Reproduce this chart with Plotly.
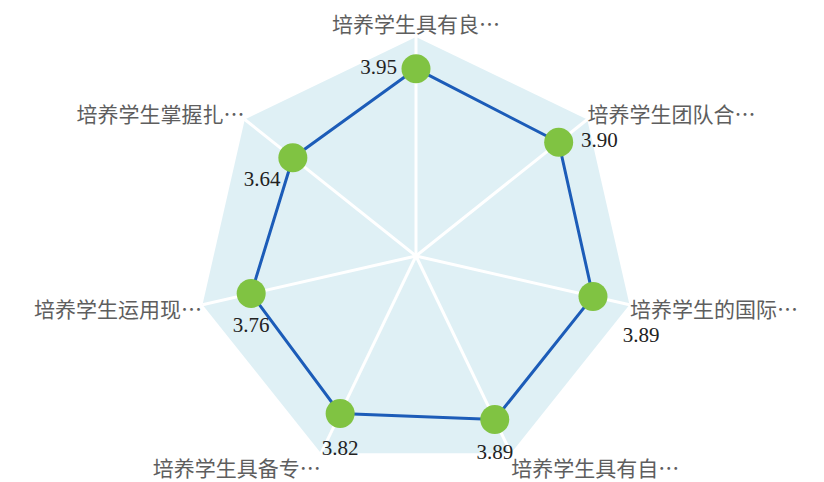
import plotly.graph_objects as go

categories = ["培养学生具有良…", "培养学生团队合…", "培养学生的国际…", "培养学生具有自…",
              "培养学生具备专…", "培养学生运用现…", "培养学生掌握扎…"]
values = [3.95, 3.90, 3.89, 3.89, 3.82, 3.76, 3.64]
value_labels = ["3.95", "3.90", "3.89", "3.89", "3.82", "3.76", "3.64"]
label_positions = ["middle left", "middle right", "bottom right", "bottom center",
                   "bottom center", "bottom center", "bottom left"]
# invisible marker sizes used only to set each value label's distance from its point
label_gaps = [29, 34, 46, 37, 40, 34, 18]

fig = go.Figure()
fig.add_trace(go.Scatterpolar(
    r=values + values[:1],
    theta=categories + categories[:1],
    mode="lines",
    line=dict(color="#1c5cb8", width=3),
    hoverinfo="skip",
    showlegend=False,
))
fig.add_trace(go.Scatterpolar(
    r=values,
    theta=categories,
    mode="markers",
    marker=dict(color="#80c342", size=29, line=dict(width=0)),
    showlegend=False,
))
fig.add_trace(go.Scatterpolar(
    r=values,
    theta=categories,
    mode="markers+text",
    marker=dict(color="rgba(0,0,0,0)", size=label_gaps, line=dict(width=0)),
    text=value_labels,
    textposition=label_positions,
    textfont=dict(family="Liberation Serif", size=21, color="#222222"),
    hoverinfo="skip",
    showlegend=False,
))

fig.update_layout(
    width=824, height=482,
    margin=dict(l=0, r=0, t=0, b=0),
    paper_bgcolor="white",
    polar=dict(
        domain=dict(x=[189/824, 627/824], y=[1-467/482, 1-29/482]),
        bgcolor="#dff0f5",
        gridshape="linear",
        radialaxis=dict(visible=False, range=[2, 4.28], showgrid=False, showline=False),
        angularaxis=dict(
            direction="clockwise", rotation=90,
            showline=False, gridcolor="white", gridwidth=3,
            ticks="", tickfont=dict(family="Noto Sans CJK SC", size=21, color="#5e5e5e"),
        ),
    ),
)
fig.write_html("out.html")
